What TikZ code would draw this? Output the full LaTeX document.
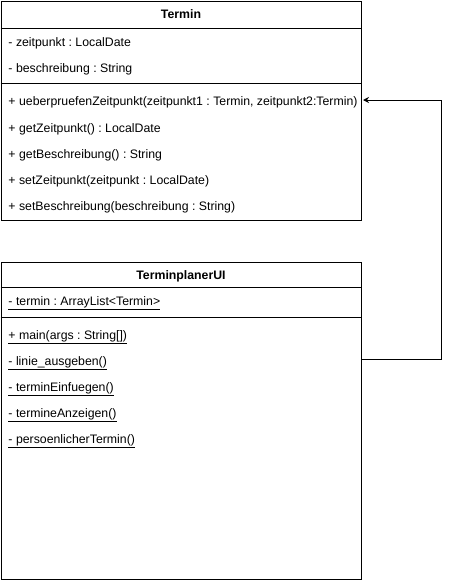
\documentclass[tikz,border=0pt]{standalone}
\usepackage{fontspec}
\setmainfont{Liberation Sans}
\usetikzlibrary{arrows.meta}
\frenchspacing

\begin{document}
\begin{tikzpicture}[x=1pt,y=-1pt,line width=1pt,
	classbox/.style={draw,minimum width=360pt,inner sep=0pt},
	member/.style={anchor=base west,inner sep=0pt,font=\fontsize{12.3}{14}\selectfont},
	classname/.style={anchor=base,inner sep=0pt,font=\fontsize{12.3}{14}\selectfont\bfseries}]
	\useasboundingbox (0,0) rectangle (451,581);
	% Klasse Termin
	\node[classbox,minimum height=219pt] at (181,110.5) (termin) {};
	\node[classname] at (181,18) (tname) {Termin};
	\draw (termin.west |- 0,28) -- (termin.east |- 0,28);
	\node[member] at (8,46) (tzeit) {- zeitpunkt : LocalDate};
	\node[member] at (8,72) (tbeschr) {- beschreibung : String};
	\draw (termin.west |- 0,83) -- (termin.east |- 0,83);
	\node[member] at (8,105) (tpruef) {+ ueberpruefenZeitpunkt(zeitpunkt1 : Termin, zeitpunkt2:Termin)};
	\node[member] at (8,132) (tgetz) {+ getZeitpunkt() : LocalDate};
	\node[member] at (8,158) (tgetb) {+ getBeschreibung() : String};
	\node[member] at (8,184) (tsetz) {+ setZeitpunkt(zeitpunkt : LocalDate)};
	\node[member] at (8,210) (tsetb) {+ setBeschreibung(beschreibung : String)};
	% Klasse TerminplanerUI
	\node[classbox,minimum height=317pt] at (181,420.5) (ui) {};
	\node[classname] at (181,279) (uname) {TerminplanerUI};
	\draw (ui.west |- 0,287) -- (ui.east |- 0,287);
	\node[member] at (8,305) (uterm) {\underline{- termin : ArrayList<Termin>}};
	\draw (ui.west |- 0,317) -- (ui.east |- 0,317);
	\node[member] at (8,339) (umain) {\underline{+ main(args : String[])}};
	\node[member] at (8,365) (ulinie) {\underline{- linie\_ausgeben()}};
	\node[member] at (8,391) (uein) {\underline{- terminEinfuegen()}};
	\node[member] at (8,417) (uanz) {\underline{- termineAnzeigen()}};
	\node[member] at (8,443) (upers) {\underline{- persoenlicherTermin()}};
	% Verbindung
	\draw[-{Stealth[length=6pt,width=6pt]},shorten >=1.5pt] (ui.east |- 0,359) -| (441,100) -- (termin.east |- 0,100);
\end{tikzpicture}
\end{document}
